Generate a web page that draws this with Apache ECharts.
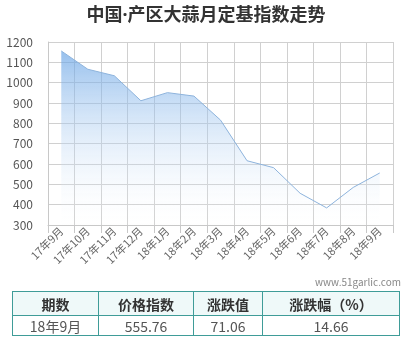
<!DOCTYPE html>
<html>
<head>
<meta charset="utf-8">
<script src="https://cdn.jsdelivr.net/npm/echarts@6/dist/echarts.min.js"></script>
<style>
html,body{margin:0;padding:0;background:#fff;}
#wrap{position:relative;width:412px;height:340px;overflow:hidden;}
#chart{position:absolute;left:0;top:0;width:412px;height:340px;}
#tbl{position:absolute;left:12px;top:291px;border-collapse:collapse;font-family:"Noto Sans CJK SC","Microsoft YaHei",sans-serif;font-size:14px;}
#tbl td,#tbl th{border:1px solid #3f9c98;text-align:center;padding:0;line-height:16px;}
#tbl th{background:#eff9f9;color:#333;font-weight:bold;height:23px;}
#tbl td{color:#555;height:19px;}
</style>
</head>
<body>
<div id="wrap">
<div id="chart"></div>
<table id="tbl"></table>
</div>
<script>
const categories = ["17年9月","17年10月","17年11月","17年12月","18年1月","18年2月","18年3月","18年4月","18年5月","18年6月","18年7月","18年8月","18年9月"];
const indexValues = [1156, 1066, 1034, 911, 951, 934, 816, 616, 582, 456, 384, 484.70, 555.76];
const yTicks = [300, 1200, 100];
const tableHeaders = ["期数", "价格指数", "涨跌值", "涨跌幅（%）"];
const tableRow = ["18年9月", "555.76", "71.06", "14.66"];
const colWidths = [86, 95, 69, 137];

const tbl = document.getElementById('tbl');
let h = '<tr>' + tableHeaders.map((t,i)=>'<th style="width:'+(colWidths[i]-1)+'px">'+t+'</th>').join('') + '</tr>';
h += '<tr>' + tableRow.map(t=>'<td>'+t+'</td>').join('') + '</tr>';
tbl.innerHTML = h;

const chart = echarts.init(document.getElementById('chart'));
const font = '"Noto Sans CJK SC","Microsoft YaHei",sans-serif';
chart.setOption({
  animation: false,
  title: {
    text: '中国·产区大蒜月定基指数走势',
    left: 'center', top: 2,
    textStyle: {fontSize: 18, fontWeight: 'bold', color: '#333', fontFamily: '"Noto Sans","Noto Sans CJK SC",sans-serif'}
  },
  graphic: [{
    type: 'text', right: 11, top: 277,
    style: {text: 'www.51garlic.com', fill: '#888', font: '10px ' + font}
  }],
  grid: {left: 48, right: 19, top: 42, bottom: 115},
  xAxis: {
    type: 'category',
    data: categories,
    boundaryGap: true,
    axisLine: {lineStyle: {color: '#c8c8c8'}},
    axisTick: {show: true, length: 8, lineStyle: {color: '#c8c8c8'}},
    splitLine: {show: true, lineStyle: {color: '#d0d0d0'}},
    axisLabel: {rotate: 45, fontSize: 11, color: '#666', fontFamily: font, margin: 4, interval: 0}
  },
  yAxis: {
    type: 'value',
    min: yTicks[0], max: yTicks[1], interval: yTicks[2],
    axisLine: {show: true, lineStyle: {color: '#c8c8c8'}},
    axisTick: {show: false},
    splitLine: {show: true, lineStyle: {color: '#d0d0d0'}},
    axisLabel: {fontSize: 12, color: '#555', fontFamily: font, margin: 15, formatter: v => String(v)}
  },
  series: [{
    type: 'line',
    data: indexValues,
    symbol: 'none',
    lineStyle: {color: '#8db3dc', width: 1},
    areaStyle: {
      origin: 'start',
      color: new echarts.graphic.LinearGradient(0, 0, 0, 1, [
        {offset: 0, color: 'rgba(98,160,228,0.95)'},
        {offset: 1, color: 'rgba(255,255,255,0.1)'}
      ])
    }
  }]
});
</script>
</body>
</html>
